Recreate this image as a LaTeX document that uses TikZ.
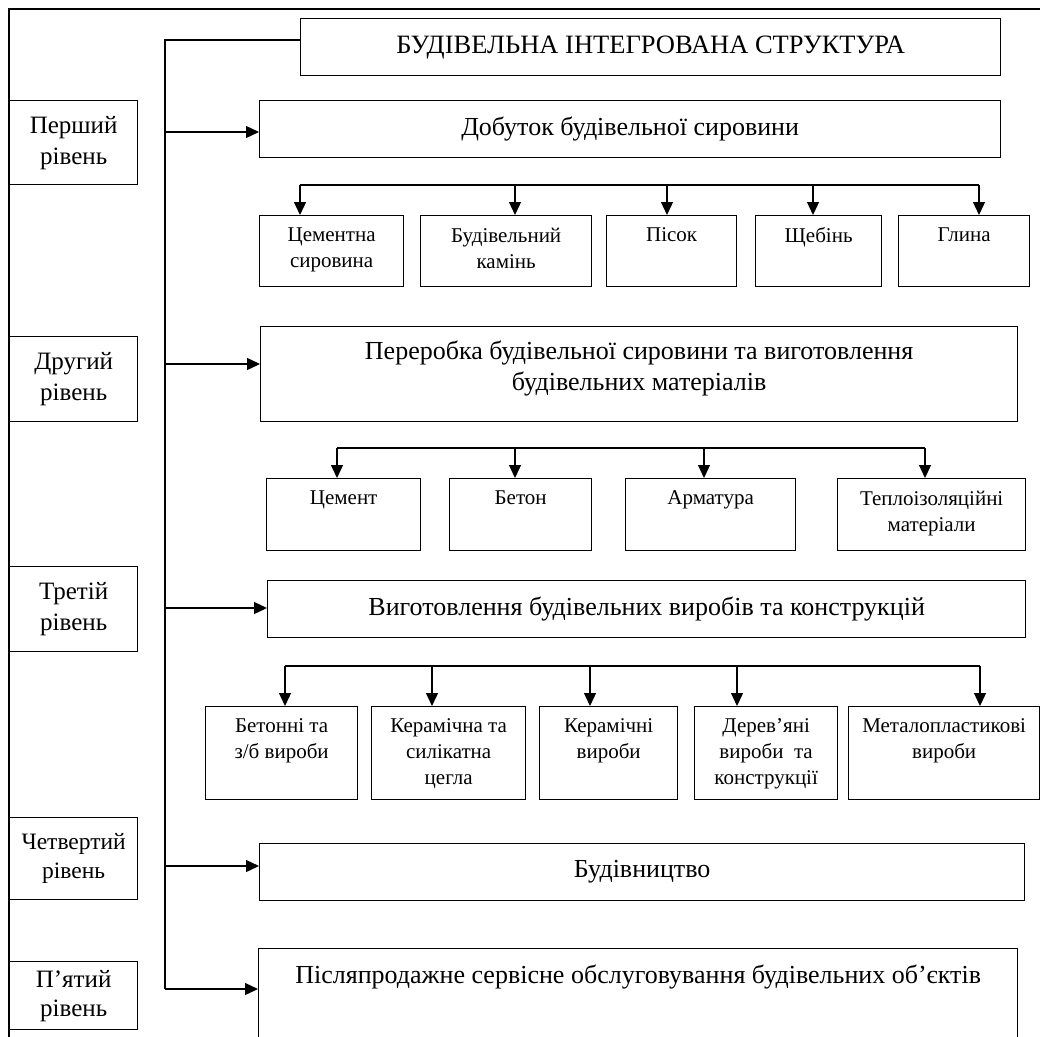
\documentclass[tikz,border=0pt]{standalone}
\usepackage{fontspec}
\setmainfont{Liberation Serif}
\usetikzlibrary{arrows.meta}

\newcommand\lvlfont{\fontsize{26}{31}\selectfont}
\newcommand\sidefont{\fontsize{25}{31}\selectfont}
\newcommand\cellfont{\fontsize{21}{26}\selectfont}
\newcommand\celltxt[4]{\parbox[c][#2][t]{#1}{\centering\vspace*{#3}#4\par}}

\tikzset{
  box/.style={draw, line width=1.3pt, anchor=north west, inner sep=0pt},
  lvl/.style={box, align=center, font=\lvlfont},
  side/.style={box, align=center, font=\sidefont, minimum width=128pt},
  sub/.style={box, font=\cellfont},
  arr/.style={line width=1.3pt, -{Triangle[length=13pt,width=12pt]}},
}

\begin{document}
\begin{tikzpicture}[x=1pt,y=1pt,yscale=-1,xscale=1]

\useasboundingbox (0,0) rectangle (1040,1036);
\clip (0,0) rectangle (1040,1036);

%Straight Lines: outer frame
\draw [line width=1.3pt] (9,1045) -- (9,9) -- (1045,9);

%Shape: Rectangle, levels on the left
\node [side, minimum height=84pt] (lone) at (9,100) {Перший\\рівень};
\node [side, minimum height=85pt] (ltwo) at (9,336) {Другий\\рівень};
\node [side, minimum height=85pt] (lthree) at (9,566) {Третій\\рівень};
\node [side, minimum height=82pt, font=\fontsize{23.5}{29}\selectfont] (lfour) at (9,817) {Четвертий\\рівень};
\node [side, minimum height=68pt, font=\fontsize{25}{29}\selectfont] (lfive) at (9,961) {П’ятий\\рівень};

%Shape: Rectangle, title
\node [lvl, minimum width=700pt, minimum height=57pt, font=\fontsize{26.5}{31}\selectfont] (title) at (300,18) {БУДІВЕЛЬНА ІНТЕГРОВАНА СТРУКТУРА};

%Shape: Rectangle, first level
\node [lvl, minimum width=741pt, minimum height=57pt] (lvlone) at (259,100) {Добуток будівельної сировини};
\node [sub] (sa) at (259,215) {\celltxt{144pt}{71pt}{12pt}{Цементна\\сировина}};
\node [sub] (sb) at (420,215) {\celltxt{171pt}{71pt}{12pt}{Будівельний\\камінь}};
\node [sub] (sc) at (606,215) {\celltxt{130pt}{71pt}{12pt}{Пісок}};
\node [sub] (sd) at (755,215) {\celltxt{126pt}{71pt}{12pt}{Щебінь}};
\node [sub] (se) at (898,215) {\celltxt{131pt}{71pt}{12pt}{Глина}};

%Shape: Rectangle, second level
\node [box, font=\lvlfont] (lvltwo) at (260,326) {\celltxt{757pt}{95pt}{14pt}{Переробка будівельної сировини та виготовлення\\будівельних матеріалів}};
\node [sub] (ma) at (266,478) {\celltxt{154pt}{72pt}{12pt}{Цемент}};
\node [sub] (mb) at (449,478) {\celltxt{142pt}{72pt}{12pt}{Бетон}};
\node [sub] (mc) at (625,478) {\celltxt{170pt}{72pt}{12pt}{Арматура}};
\node [sub] (md) at (837,478) {\celltxt{188pt}{72pt}{12pt}{Теплоізоляційні\\матеріали}};

%Shape: Rectangle, third level
\node [lvl, minimum width=758pt, minimum height=57pt] (lvlthree) at (267,580) {Виготовлення будівельних виробів та конструкцій};
\node [sub] (pa) at (205,706) {\celltxt{152pt}{93pt}{12pt}{Бетонні та\\з/б вироби}};
\node [sub] (pb) at (371,706) {\celltxt{154pt}{93pt}{12pt}{Керамічна та\\силікатна\\цегла}};
\node [sub] (pc) at (539,706) {\celltxt{138pt}{93pt}{12pt}{Керамічні\\вироби}};
\node [sub] (pd) at (694,706) {\celltxt{143pt}{93pt}{12pt}{Дерев’яні\\вироби\ \ та\\конструкції}};
\node [sub] (pe) at (848,706) {\celltxt{191pt}{93pt}{12pt}{Металопластикові\\вироби}};

%Shape: Rectangle, fourth and fifth level
\node [lvl, minimum width=765pt, minimum height=57pt] (lvlfour) at (259,843) {Будівництво};
\node [box, font=\lvlfont] (lvlfive) at (258,948) {\celltxt{759pt}{100pt}{16pt}{Післяпродажне сервісне обслуговування будівельних об’єктів}};

%Straight Lines: trunk
\coordinate (ttop) at (165,40);
\coordinate (aone) at (165,132);
\coordinate (atwo) at (165,364);
\coordinate (athree) at (165,608);
\coordinate (afour) at (165,866);
\coordinate (afive) at (165,989);
\draw [line width=1.3pt] (title.west |- ttop) -- (ttop) -- (afive);
\foreach \c/\n in {aone/lvlone,atwo/lvltwo,athree/lvlthree,afour/lvlfour,afive/lvlfive}
  \draw [arr] (\c) -- (\n.west |- \c);

%Straight Lines: buses
\coordinate (bsa) at (300,185);
\coordinate (bsb) at (979,185);
\draw [line width=1.3pt] (bsa) -- (bsb);
\foreach \x/\n in {300/sa,515/sb,667/sc,813/sd,979/se}{
  \coordinate (t) at (\x,185);
  \draw [arr] (t) -- (\n.north -| t);
}
\coordinate (bma) at (337,448);
\coordinate (bmb) at (925,448);
\draw [line width=1.3pt] (bma) -- (bmb);
\foreach \x/\n in {337/ma,515/mb,704/mc,925/md}{
  \coordinate (t) at (\x,448);
  \draw [arr] (t) -- (\n.north -| t);
}
\coordinate (bpa) at (285,666);
\coordinate (bpb) at (980,666);
\draw [line width=1.3pt] (bpa) -- (bpb);
\foreach \x/\n in {285/pa,432/pb,590/pc,737/pd,980/pe}{
  \coordinate (t) at (\x,666);
  \draw [arr] (t) -- (\n.north -| t);
}

\end{tikzpicture}
\end{document}
